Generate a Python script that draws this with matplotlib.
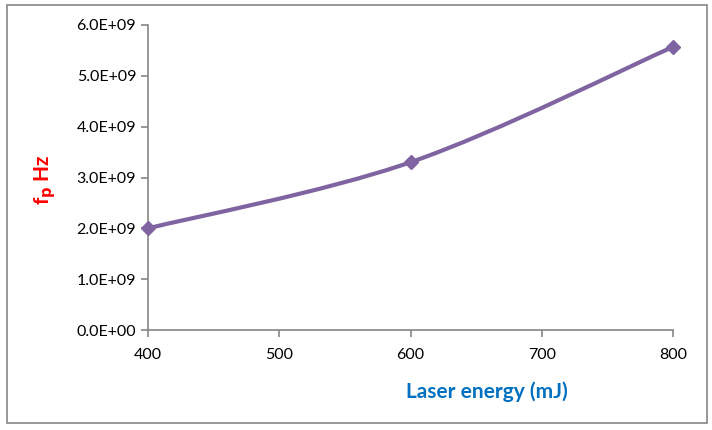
import matplotlib.pyplot as plt
import numpy as np
from matplotlib.path import Path
from matplotlib.patches import PathPatch, Rectangle

energy = [400, 600, 800]
freq = [2.0e9, 3.3e9, 5.57e9]
xticks = [400, 500, 600, 700, 800]
yticks = [0, 1e9, 2e9, 3e9, 4e9, 5e9, 6e9]

plt.rcParams['font.family'] = ['Lato', 'DejaVu Sans']

fig = plt.figure(figsize=(7.12, 4.30), dpi=100)
ax = fig.add_axes([148/712, 100/430, (673-148)/712, 305/430])

# smoothed line like Excel (cubic bezier through the points)
pts = np.column_stack([energy, freq])
ext = np.vstack([pts[0], pts, pts[-1]])
verts = [tuple(pts[0])]
codes = [Path.MOVETO]
for i in range(len(pts) - 1):
    p0, p1, p2, p3 = ext[i], ext[i+1], ext[i+2], ext[i+3]
    c1 = p1 + (p2 - p0) / 6
    c2 = p2 - (p3 - p1) / 6
    verts += [tuple(c1), tuple(c2), tuple(p2)]
    codes += [Path.CURVE4] * 3
line_color = "#8064A2"
ax.add_patch(PathPatch(Path(verts, codes), facecolor="none", clip_on=False,
                       edgecolor=line_color, linewidth=3, capstyle="round"))
ax.plot(energy, freq, linestyle="none", marker="D", markersize=7,
        color=line_color, clip_on=False, zorder=5)

ax.set_xlim(400, 800)
ax.set_ylim(0, 6e9)
ax.set_xticks(xticks)
ax.set_yticks(yticks)
ax.set_yticklabels(["%.1fE+%02d" % (v / 10**int(np.log10(v)), int(np.log10(v)))
                    if v > 0 else "0.0E+00" for v in yticks])

for s in ["top", "right"]:
    ax.spines[s].set_visible(False)
for s in ["left", "bottom"]:
    ax.spines[s].set_color("#868686")
    ax.spines[s].set_linewidth(1.2)
ax.tick_params(colors="#868686", labelcolor="black", labelsize=11.5,
               length=5, width=1.2, direction="out")
ax.tick_params(axis="x", pad=8)

fig.text(487/712, 1 - 392/430, "Laser energy (mJ)", color="#0070C0",
         fontsize=15, fontweight="bold", ha="center", va="center")
fig.text(45/712, 1 - 180/430, r"f$_\mathbf{p}$ Hz", color="#FF0000",
         fontsize=15, fontweight="bold", rotation=90, ha="center", va="center")

fig.patches.append(Rectangle((7/712, 1 - 423/430), 700/712, 418/430,
                             transform=fig.transFigure, fill=False,
                             edgecolor="#868686", linewidth=1.2))

fig.savefig("out.png", dpi=100)
